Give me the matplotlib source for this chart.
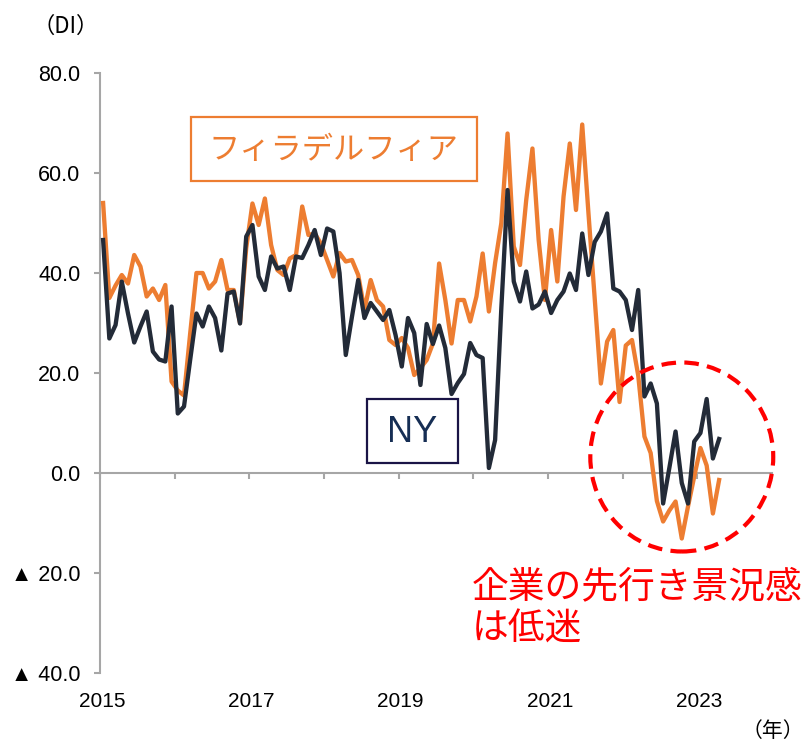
import matplotlib
matplotlib.use("Agg")
import matplotlib.pyplot as plt
import matplotlib.transforms as mtransforms
from matplotlib.patches import Ellipse, Rectangle
import numpy as np

# ---- data (monthly, Jan 2015 - Apr 2023) ----
ny = [46.6, 26.9, 29.6, 38.3, 31.9, 26.1, 29.3, 32.3, 24.3, 22.7, 22.3, 33.3,
      11.9, 13.3, 22.7, 31.9, 29.3, 33.3, 31.0, 24.5, 35.9, 36.3, 29.9, 47.3,
      49.6, 39.3, 36.6, 43.3, 40.9, 41.3, 36.6, 43.3, 43.0, 45.6, 48.6, 43.6,
      48.9, 48.3, 40.0, 23.6, 31.3, 38.6, 31.0, 34.0, 32.3, 30.6, 32.6, 27.6,
      21.3, 31.0, 28.0, 17.6, 29.8, 25.8, 29.5, 25.0, 15.8, 18.0, 19.8, 26.0,
      23.6, 23.0, 1.0, 6.6, 33.0, 56.6, 38.3, 34.3, 40.3, 32.9, 33.7, 36.3,
      32.0, 34.6, 36.3, 39.9, 36.6, 47.9, 39.6, 46.2, 48.3, 51.9, 36.9, 36.3,
      34.6, 28.6, 36.6, 15.3, 17.9, 13.9, -6.1, 1.0, 8.3, -2.0, -6.1, 6.3,
      8.0, 14.8, 2.9, 6.8]
philly = [54.0, 35.0, 37.5, 39.6, 37.9, 43.6, 41.3, 35.3, 36.9, 34.6, 37.6, 18.3,
          16.5, 15.5, 28.0, 40.0, 40.0, 36.9, 38.3, 42.6, 36.6, 36.6, 30.0, 45.0,
          53.9, 49.6, 54.9, 45.6, 40.6, 39.6, 42.9, 43.6, 53.3, 47.6, 47.9, 45.9,
          42.6, 39.3, 44.0, 42.3, 42.6, 39.6, 32.6, 38.6, 34.6, 33.3, 26.6, 25.6,
          27.0, 25.0, 19.6, 21.0, 22.6, 25.9, 41.9, 34.6, 25.9, 34.6, 34.6, 30.3,
          35.3, 43.9, 32.3, 42.0, 50.0, 67.9, 45.3, 41.6, 54.6, 64.9, 46.6, 34.6,
          48.6, 38.3, 55.3, 65.9, 52.6, 69.7, 52.0, 35.0, 17.9, 26.3, 28.6, 14.2,
          25.5, 26.6, 19.5, 7.3, 4.0, -5.6, -9.7, -7.5, -5.7, -13.1, -6.7, -0.7,
          5.0, 1.5, -8.1, -1.4]
years = [2015, 2016, 2017, 2018, 2019, 2020, 2021, 2022, 2023, 2024]
year_labels = ["2015", "2017", "2019", "2021", "2023"]
y_ticks = [-40, -20, 0, 20, 40, 60, 80]
y_tick_labels = ["▲ 40.0", "▲ 20.0", "0.0", "20.0", "40.0", "60.0", "80.0"]
label_philly = "フィラデルフィア"
label_ny = "NY"
annotation = "企業の先行き景況感\nは低迷"

ORANGE = "#ED7D31"
DARK = "#232B38"
NAVY = "#162E54"
GRAY = "#A6A6A6"
LATIN = ["Liberation Sans", "DejaVu Sans"]
CJK = ["Noto Sans CJK JP", "DejaVu Sans"]

fig = plt.figure(figsize=(8.07, 7.46), dpi=100)
ax = fig.add_axes([100/807, 1-673/746, 672/807, 600/746])

months = np.arange(len(ny)) + 0.5
ax.plot(months[:len(philly)], philly, color=ORANGE, lw=3.1, solid_joinstyle="round", zorder=3)
ax.plot(months, ny, color=DARK, lw=3.1, solid_joinstyle="round", zorder=4)

ax.set_xlim(0, 12 * (len(years) - 1))
ax.set_ylim(-40, 80)
ax.set_yticks(y_ticks)
ax.set_yticklabels(y_tick_labels, family=LATIN, fontsize=15.5)
ax.set_xticks([12 * k for k in range(len(years))])
ax.set_xticklabels([])

for s in ["top", "right"]:
    ax.spines[s].set_visible(False)
ax.spines["bottom"].set_position(("data", 0))
for s in ["bottom", "left"]:
    ax.spines[s].set_color(GRAY)
    ax.spines[s].set_linewidth(1.5)
ax.tick_params(axis="both", colors=GRAY, width=1.5, length=4, direction="out")
ax.tick_params(axis="y", labelcolor="black", pad=10)

trans = mtransforms.blended_transform_factory(ax.transData, ax.transAxes)
for lbl in year_labels:
    xv = 12 * (int(lbl) - years[0])
    ax.text(xv + 0.3, -0.032, lbl, transform=trans, ha="center", va="top",
            fontsize=15, family=LATIN)

# dashed red circle
ell = Ellipse((93.5, 3.2), width=29.4, height=37.8, fill=False,
              edgecolor="#FF0000", lw=3, linestyle=(0, (3.5, 2.0)), zorder=5,
              clip_on=False)
ax.add_patch(ell)

# label boxes
fig.add_artist(Rectangle((191/807, 1-181/746), 286/807, 64/746, transform=fig.transFigure,
                         facecolor="white", edgecolor=ORANGE, lw=1.6, zorder=6))
fig.text(333/807, 1-150/746, label_philly, color=ORANGE, fontsize=22.5, family=CJK,
         ha="center", va="center", zorder=7)
fig.add_artist(Rectangle((367/807, 1-463/746), 91/807, 64/746, transform=fig.transFigure,
                         facecolor="white", edgecolor="#1A1446", lw=1.6, zorder=6))
fig.text(412/807, 1-432/746, label_ny, color=NAVY, fontsize=26, family=LATIN,
         ha="center", va="center", zorder=7)

fig.text(472/807, 1-567/746, annotation, color="#FF0000", fontsize=26.5, family=CJK,
         ha="left", va="top", linespacing=1.12)

fig.text(66/807, 1-26/746, "（DI）", fontsize=16, family=CJK, ha="center", va="center")
fig.text(804/807, 1-731/746, "（年）", fontsize=15, family=CJK, ha="right", va="center")

fig.savefig("out.png", dpi=100)
